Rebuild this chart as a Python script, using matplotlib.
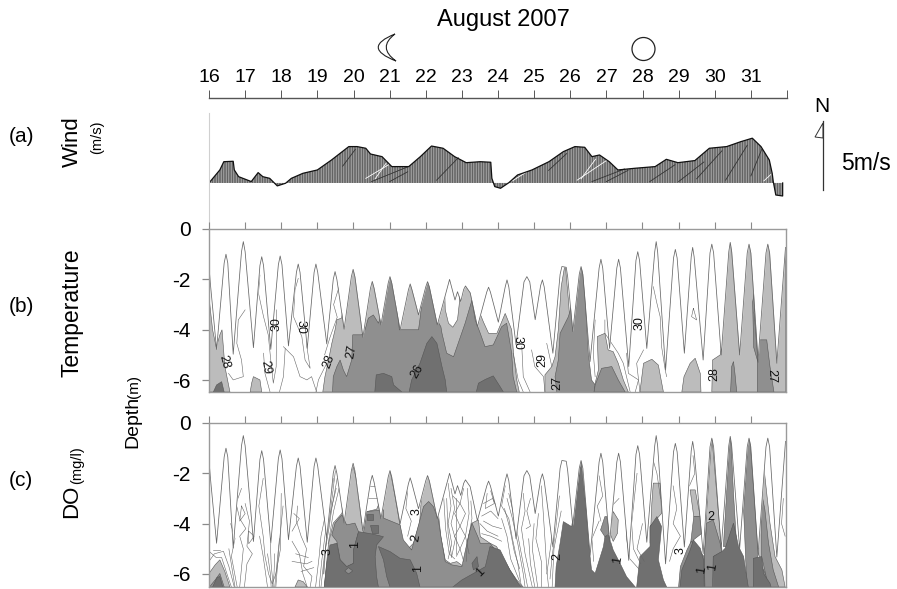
import matplotlib
matplotlib.use('Agg')
import matplotlib.pyplot as plt
from matplotlib.path import Path
from matplotlib.patches import PathPatch, Circle, Polygon

plt.rcParams['font.family'] = ['Liberation Sans', 'DejaVu Sans']
plt.rcParams['hatch.linewidth'] = 0.45

LIGHT = '#bcbcbc'
MID = '#8f8f8f'
DARK = '#707070'
AXIS = '#8a8a8a'

DAYS = list(range(16, 32))
DEPTH_TICKS = [0, -2, -4, -6]

# wind envelope (day, m/s)
WIND = [(16.0, 0), (16.3, 0.93), (16.41, 1.52), (16.67, 1.55), (16.7, 0.93), (16.82, 0.45), (17.01, 0.26),
        (17.17, 0.1), (17.36, 0.74), (17.49, 0.45), (17.68, 0.33), (17.89, -0.21), (18.12, -0.02), (18.28, 0.33),
        (18.6, 0.69), (19.0, 0.93), (19.39, 1.64), (19.87, 2.6), (20.1, 2.6), (20.34, 2.48), (20.47, 2.07),
        (20.79, 1.88), (21.06, 1.17), (21.53, 1.17), (21.85, 1.88), (22.16, 2.64), (22.48, 2.48), (22.8, 1.88),
        (23.12, 1.45), (23.51, 1.52), (23.8, 1.48), (23.83, 0.33), (23.91, -0.26), (24.07, -0.38), (24.3, 0.02),
        (24.54, 0.57), (24.94, 0.93), (25.41, 1.52), (25.81, 2.24), (26.13, 2.6), (26.4, 2.55), (26.6, 1.88),
        (26.81, 2.0), (27.08, 1.52), (27.32, 0.93), (27.79, 1.05), (28.35, 1.17), (28.66, 1.69), (28.98, 1.45),
        (29.45, 1.6), (29.85, 2.48), (30.33, 2.6), (30.72, 2.95), (31.04, 3.2), (31.28, 2.6), (31.51, 1.64),
        (31.59, 0.69), (31.62, 0.1), (31.69, -0.86), (31.88, -0.93), (31.88, 0)]
WIND_WHITE = [[(20.34, 0.33), (20.97, 1.3)], [(26.19, 0.2), (27.06, 1.7)], [(24.4, 0.15), (24.8, 0.8)],
              [(31.36, 0.15), (31.55, 0.6)], [(26.3, 0.3), (26.7, 1.7)], [(20.6, 0.3), (20.9, 1.4)]]
WIND_DARK = [[(20.5, 0.1), (21.5, 1.15)], [(21.0, 0.1), (21.5, 0.8)], [(26.6, 0.1), (27.5, 1.0)],
             [(22.3, 0.2), (22.9, 1.8)], [(29.5, 0.3), (30.2, 2.3)], [(30.3, 0.2), (30.9, 2.7)],
             [(31.0, 0.5), (31.3, 2.4)], [(27.0, 0.1), (27.6, 0.9)], [(28.2, 0.1), (28.9, 1.3)],
             [(29.0, 0.1), (29.7, 1.5)], [(25.4, 0.9), (25.9, 2.1)], [(19.7, 1.2), (20.05, 2.4)]]

# water surface, same record for temperature and DO (day, depth m)
SURFACE = [(16.0, 1.49), (16.04, 2.2), (16.21, 4.78),
           (16.42, 1.35), (16.47, 1.0), (16.52, 1.35), (16.67, 4.97),
           (16.9, 0.9), (16.95, 0.5), (17.0, 0.9), (17.23, 4.71),
           (17.41, 1.45), (17.46, 1.1), (17.51, 1.45), (17.71, 4.78),
           (17.92, 1.42), (17.97, 1.07), (18.02, 1.42), (18.2, 4.64),
           (18.42, 1.72), (18.47, 1.39), (18.52, 1.72), (18.72, 4.74),
           (18.91, 1.72), (18.96, 1.39), (19.01, 1.72), (19.26, 4.56),
           (19.44, 2.0), (19.49, 1.69), (19.54, 2.0), (19.74, 3.98),
           (19.94, 1.9), (19.99, 1.6), (20.04, 1.9), (20.26, 4.3),
           (20.47, 2.35), (20.52, 2.08), (20.57, 2.35), (20.76, 3.81),
           (20.96, 2.15), (21.01, 1.89), (21.06, 2.15), (21.29, 4.01),
           (21.52, 2.42), (21.57, 2.18), (21.62, 2.42), (21.8, 3.41),
           (22.0, 2.3), (22.05, 2.09), (22.1, 2.3), (22.32, 3.81),
           (22.66, 2.0), (22.81, 2.82), (22.88, 2.49), (22.97, 2.88), (23.05, 2.4), (23.1, 2.26), (23.23, 2.53),
           (23.43, 3.88), (23.69, 2.5), (23.74, 2.31), (23.79, 2.5), (24.01, 3.7),
           (24.2, 2.3), (24.25, 2.02), (24.3, 2.3), (24.5, 4.6),
           (24.72, 2.1), (24.8, 1.89), (24.88, 2.1), (25.03, 3.6),
           (25.18, 2.25), (25.23, 2.02), (25.28, 2.3), (25.52, 4.93),
           (25.72, 1.8), (25.77, 1.49), (25.89, 1.52), (25.93, 1.9), (26.07, 4.07),
           (26.25, 1.8), (26.3, 1.49), (26.35, 1.8), (26.55, 5.26),
           (26.8, 1.55), (26.85, 1.2), (26.9, 1.55), (27.09, 4.74),
           (27.29, 1.55), (27.34, 1.2), (27.39, 1.55), (27.62, 5.46),
           (27.82, 1.25), (27.87, 0.9), (27.92, 1.25), (28.12, 4.74),
           (28.34, 0.9), (28.38, 0.5), (28.42, 0.9), (28.64, 5.6),
           (28.86, 1.15), (28.91, 0.81), (28.96, 1.15), (29.16, 4.93),
           (29.35, 1.1), (29.39, 0.73), (29.43, 1.1), (29.68, 5.2),
           (29.87, 0.95), (29.92, 0.6), (29.97, 0.95), (30.18, 5.0),
           (30.39, 0.9), (30.43, 0.53), (30.47, 0.9), (30.69, 5.0),
           (30.9, 0.95), (30.95, 0.6), (31.0, 0.95), (31.2, 5.2),
           (31.42, 0.95), (31.47, 0.6), (31.52, 0.95), (31.72, 5.33),
           (31.96, 0.73)]

# temperature zones (day, depth m)
TEMP_LIGHT = [
    [(16.0, 2.7), (16.1, 4.0), (16.2, 4.7), (16.3, 4.2), (16.36, 4.0), (16.44, 5.46), (16.58, 6.47), (16.0, 6.47)],
    [(19.15, 6.47), (19.21, 5.86), (19.31, 5.2), (19.4, 4.54), (19.49, 4.0), (19.54, 3.6), (19.67, 3.54),
     (19.81, 2.29), (19.99, 0.97), (22.31, 0.97), (22.51, 1.6), (22.54, 3.2), (22.63, 3.74), (22.75, 3.9),
     (22.88, 3.6), (22.93, 2.95), (22.95, 1.63), (23.28, 1.63), (23.46, 3.2), (23.6, 3.7), (23.74, 4.14),
     (23.97, 4.14), (24.2, 3.35), (24.38, 4.0), (24.43, 4.93), (24.52, 5.99), (24.59, 6.47)],
    [(25.3, 6.48), (25.3, 5.79), (25.49, 5.46), (25.58, 5.07), (25.67, 4.0), (25.75, 2.29), (25.86, 1.36),
     (25.95, 2.82), (25.99, 3.61), (26.69, 6.47)],
    [(26.64, 6.47), (26.69, 6.12), (26.78, 5.6), (26.75, 4.27), (26.96, 4.14), (27.05, 4.8), (27.19, 4.87),
     (27.33, 5.33), (27.47, 5.99), (27.61, 6.47)],
    [(27.93, 6.47), (28.03, 5.33), (28.26, 5.17), (28.44, 5.4), (28.58, 6.47)],
    [(29.09, 6.47), (29.15, 5.86), (29.32, 5.33), (29.46, 5.13), (29.6, 5.73), (29.62, 6.47)],
    [(29.92, 6.47), (29.94, 5.2), (30.15, 5.0), (30.2, 4.6), (30.3, 1.5), (30.38, 0.2), (31.96, 0.2), (31.96, 6.47)],
    [(17.14, 6.47), (17.18, 6.12), (17.23, 5.86), (17.41, 5.99), (17.46, 6.47)],
]
TEMP_MID = [
    [(19.42, 6.47), (19.44, 5.86), (19.54, 5.46), (19.63, 5.2), (19.72, 5.6), (19.81, 5.86), (19.95, 5.2),
     (19.98, 4.2), (20.23, 4.2), (20.32, 4.0), (20.41, 3.54), (20.55, 3.41), (20.69, 3.74), (20.78, 3.35),
     (20.88, 2.29), (21.01, 0.97), (21.15, 2.29), (21.27, 4.0), (21.8, 4.0), (21.85, 3.48), (21.94, 2.29),
     (22.05, 0.97), (22.17, 2.29), (22.31, 3.61), (22.42, 3.88), (22.45, 4.14), (22.58, 4.93), (22.77, 5.07),
     (23.09, 3.74), (23.28, 2.82), (23.37, 3.61), (23.51, 4.14), (23.64, 4.67), (23.87, 4.6), (24.1, 3.88),
     (24.24, 3.74), (24.38, 4.93), (24.42, 5.86), (24.52, 6.47)],
    [(25.63, 6.48), (25.58, 5.86), (25.67, 5.2), (25.72, 4.14), (25.95, 3.48), (26.18, 2.29), (26.3, 0.97),
     (26.41, 2.69), (26.5, 4.93), (26.59, 5.99), (26.69, 6.19), (26.66, 6.48)],
    [(26.69, 6.19), (26.87, 5.53), (27.15, 5.46), (27.33, 5.99), (27.52, 6.47), (26.66, 6.47)],
    [(31.18, 6.47), (31.18, 5.33), (31.24, 4.4), (31.44, 4.4), (31.53, 5.46), (31.64, 6.47)],
    [(30.44, 6.47), (30.47, 5.46), (30.52, 5.26), (30.56, 5.73), (30.61, 6.47)],
    [(31.1, 2.5), (31.15, 3.0), (31.09, 3.3), (31.13, 4.0), (31.2, 5.3), (31.08, 4.7), (31.06, 3.5), (31.05, 2.9)],
]
TEMP_DARK = [
    [(20.59, 6.47), (20.63, 5.79), (20.83, 5.73), (21.06, 5.86), (21.11, 6.19), (21.34, 6.47)],
    [(21.54, 6.47), (21.61, 5.99), (21.84, 5.33), (22.03, 4.54), (22.17, 4.27), (22.31, 4.54), (22.45, 5.46),
     (22.54, 5.99), (22.58, 6.47)],
    [(23.4, 6.47), (23.46, 6.12), (23.65, 5.97), (23.87, 5.83), (24.06, 6.26), (24.15, 6.47)],
    [(16.12, 6.47), (16.21, 6.19), (16.35, 6.06), (16.42, 6.47)],
]
TEMP_LINES = [
    [(17.41, 1.83), (17.37, 2.55), (17.51, 3.48), (17.64, 4.2), (17.71, 5.2), (17.78, 6.12), (17.86, 5.46), (17.87, 3.21)],
    [(18.47, 1.96), (18.38, 2.42), (18.34, 3.48), (18.57, 4.27), (18.66, 5.2), (18.8, 5.53), (18.71, 4.67), (18.75, 4.0)],
    [(17.0, 3.21), (16.81, 3.61), (16.77, 4.54), (16.9, 5.2), (16.95, 5.86), (16.67, 5.99), (16.54, 5.73)],
    [(17.51, 4.93), (17.55, 5.73), (17.69, 6.47)],
    [(18.06, 4.67), (18.34, 5.07), (18.52, 5.86), (18.71, 5.99), (18.84, 5.86), (18.98, 6.47)],
    [(18.11, 4.74), (18.06, 5.86), (17.95, 6.47)],
    [(19.26, 5.33), (19.03, 5.99), (18.96, 6.47)],
    [(19.6, 2.3), (19.45, 3.0), (19.55, 3.5), (19.35, 4.3), (19.2, 5.0)],
    [(24.42, 4.93), (24.56, 5.99), (24.7, 6.47)],
    [(24.66, 4.67), (24.7, 5.86), (24.89, 6.47)],
    [(24.93, 4.8), (25.02, 5.46), (25.26, 5.86), (25.3, 6.47)],
    [(25.35, 4.54), (25.49, 5.46)],
    [(26.69, 3.61), (26.64, 4.93), (26.69, 5.86)],
    [(26.96, 3.61), (26.96, 4.14), (27.33, 4.93), (27.47, 5.33), (27.66, 6.47)],
    [(27.56, 4.93), (27.61, 5.73), (27.89, 5.99), (27.8, 6.47)],
    [(28.3, 2.29), (28.4, 2.95), (28.49, 3.48), (28.53, 4.67), (28.63, 5.6), (28.67, 5.86)],
    [(28.03, 4.8), (27.84, 5.33), (27.93, 6.47)],
    [(29.41, 3.15), (29.5, 3.61), (29.36, 3.48), (29.41, 3.15)],
]

# dissolved oxygen zones (day, depth m)
DO_LIGHT = [
    [(16.0, 5.98), (16.17, 5.64), (16.3, 5.44), (16.44, 5.91), (16.58, 6.52), (16.0, 6.52)],
    [(18.38, 6.52), (18.47, 6.24), (18.61, 6.31), (18.72, 6.52)],
    [(19.19, 6.52), (19.31, 4.78), (19.44, 3.98), (19.68, 3.59), (19.81, 2.52), (19.99, 1.73), (20.14, 2.52),
     (20.23, 3.98), (20.37, 3.52), (20.64, 3.43), (20.83, 2.79), (21.01, 1.86), (21.15, 2.92), (21.27, 3.92),
     (21.34, 4.58), (21.48, 5.05), (21.66, 4.78), (21.83, 3.98), (21.89, 2.79), (22.03, 1.99), (22.21, 2.39),
     (22.35, 3.59), (22.42, 4.52), (22.54, 5.44), (22.68, 5.58), (22.86, 5.51), (23.05, 5.71), (23.18, 4.52),
     (23.28, 3.98), (23.46, 3.85), (23.51, 4.52), (23.78, 4.78), (23.96, 4.91), (24.33, 5.84), (24.52, 6.24),
     (24.7, 6.52)],
    [(27.1, 4.38), (27.19, 3.52), (27.33, 3.85), (27.31, 4.38), (27.19, 4.71)],
    [(28.21, 4.78), (28.26, 3.19), (28.3, 2.39), (28.49, 2.39), (28.53, 3.59), (28.21, 4.12)],
    [(29.42, 3.72), (29.32, 2.66), (29.46, 2.66), (29.6, 3.72)],
    [(29.73, 6.52), (29.71, 5.31), (29.78, 3.45), (29.92, 0.53), (30.08, 3.19), (30.2, 5.05), (29.96, 5.31), (29.94, 6.52)],
    [(31.35, 1.59), (31.44, 2.79), (31.53, 3.98), (31.67, 5.31), (31.86, 5.84), (31.95, 6.52), (31.44, 6.52),
     (31.21, 5.18), (31.21, 2.12)],
]
DO_MID = [
    [(16.01, 6.52), (16.17, 6.24), (16.3, 5.98), (16.42, 6.52)],
    [(20.28, 6.52), (20.28, 4.32), (20.37, 3.52), (20.83, 3.45), (20.83, 3.78), (21.29, 4.05), (21.38, 4.65),
     (21.61, 5.05), (21.84, 3.85), (21.94, 3.32), (22.08, 3.12), (22.21, 3.32), (22.35, 3.85), (22.42, 4.52),
     (22.54, 5.51), (22.72, 5.64), (23.0, 5.71), (23.18, 4.52), (23.28, 3.98), (23.46, 4.58), (23.51, 4.78),
     (23.78, 4.78), (24.06, 5.31), (24.42, 6.11), (24.61, 6.52)],
    [(19.4, 4.45), (19.49, 3.98), (19.68, 3.65), (19.81, 4.05), (20.04, 3.98), (20.14, 4.32), (20.0, 5.05),
     (20.0, 5.58), (19.81, 5.71), (19.63, 5.44), (19.54, 4.71)],
    [(26.96, 3.72), (27.01, 3.72), (27.1, 4.38), (26.96, 4.52), (26.84, 4.25)],
    [(29.28, 5.44), (29.42, 3.72), (29.6, 3.72), (29.65, 4.38), (29.41, 4.65)],
    [(29.73, 6.52), (29.71, 5.31), (29.78, 3.98), (29.96, 3.85), (30.15, 4.78), (30.2, 5.11), (29.96, 5.31), (29.94, 6.52)],
    [(30.24, 4.91), (30.33, 2.79), (30.43, 0.13), (30.52, 2.79), (30.61, 4.91)],
    [(30.8, 3.45), (30.95, 0.13), (31.12, 3.45), (31.21, 5.18), (31.17, 5.44), (31.35, 5.84), (31.49, 6.24),
     (31.58, 6.52), (30.89, 6.52)],
    [(31.3, 2.79), (31.39, 3.45), (31.49, 4.78), (31.62, 5.84), (31.77, 6.52), (31.49, 6.52), (31.3, 5.31)],
    [(29.0, 6.52), (29.05, 5.71), (29.23, 5.05), (29.35, 4.7), (29.7, 5.3), (29.72, 6.52)],
]
DO_DARK = [
    [(16.1, 6.52), (16.22, 6.15), (16.3, 6.1), (16.38, 6.52)],
    [(19.19, 6.52), (19.26, 5.58), (19.35, 4.85), (19.54, 4.78), (19.63, 5.44), (19.81, 5.71), (20.0, 5.58),
     (20.0, 5.05), (20.14, 4.32), (20.51, 4.41), (20.83, 4.52), (20.64, 4.85), (20.6, 5.31), (20.64, 6.11), (20.69, 6.52)],
    [(20.69, 4.91), (21.01, 5.11), (21.29, 5.38), (21.57, 5.44), (21.75, 5.98), (21.84, 6.52), (21.01, 6.52),
     (20.92, 6.11), (20.83, 5.44)],
    [(20.46, 4.05), (20.69, 4.05), (20.69, 4.38), (20.5, 4.38)],
    [(20.37, 3.6), (20.55, 3.6), (20.55, 3.85), (20.37, 3.85)],
    [(22.75, 6.52), (23.0, 6.24), (23.41, 5.91), (23.65, 5.71), (23.78, 4.91), (24.06, 5.05), (24.33, 5.84),
     (24.56, 6.37), (24.65, 6.52)],
    [(23.28, 5.58), (23.42, 5.31), (23.46, 5.71), (23.32, 5.84)],
    [(25.58, 6.52), (25.61, 5.71), (25.72, 4.78), (25.81, 3.92), (26.04, 4.12), (26.18, 2.79), (26.3, 1.46),
     (26.44, 3.45), (26.53, 5.05), (26.59, 5.84), (26.69, 5.98), (26.92, 4.91), (26.96, 4.52), (27.06, 4.45),
     (27.19, 5.05), (27.38, 5.58), (27.56, 6.11), (27.8, 6.52)],
    [(27.84, 6.52), (27.93, 5.31), (28.21, 4.91), (28.21, 4.12), (28.4, 3.72), (28.53, 4.12), (28.44, 5.44),
     (28.58, 6.24), (28.67, 6.52)],
    [(29.04, 6.52), (29.09, 5.84), (29.32, 5.05), (29.41, 4.65), (29.6, 4.98), (29.69, 5.44), (29.71, 6.52)],
    [(29.96, 6.52), (29.96, 5.31), (30.2, 5.11), (30.29, 4.98), (30.52, 3.98), (30.66, 4.91), (30.8, 5.31), (30.93, 6.52)],
    [(31.07, 6.52), (31.07, 5.38), (31.3, 5.31), (31.35, 5.98), (31.53, 6.37), (31.56, 6.52)],
]
DO_MID_TOP = [
    [(19.76, 5.88), (19.86, 5.75), (19.98, 5.88), (19.86, 6.0)],
]
DO_LINES = [
    [(16.12, 5.05), (16.3, 5.05)],
    [(16.0, 5.1), (16.2, 5.35), (16.35, 5.35), (16.52, 6.1), (16.62, 6.52)],
    [(16.0, 5.5), (16.15, 5.2), (16.4, 5.1), (16.55, 5.7), (16.7, 6.52)],
    [(16.55, 5.0), (16.65, 5.9), (16.72, 6.52)],
    [(16.6, 4.0), (16.72, 4.6), (16.62, 5.3), (16.78, 6.52)],
    [(16.9, 2.6), (16.75, 3.2), (16.85, 3.8), (17.02, 4.2), (16.85, 4.5), (16.95, 5.0), (16.85, 6.52)],
    [(17.0, 3.2), (17.12, 3.9), (17.05, 4.9), (17.2, 5.2), (17.05, 5.6), (16.98, 6.52)],
    [(17.5, 2.2), (17.38, 3.3), (17.5, 4.5), (17.55, 5.3), (17.65, 6.0), (17.75, 6.4), (17.85, 6.0), (17.98, 5.0), (18.0, 2.8)],
    [(17.4, 4.5), (17.5, 5.3), (17.62, 6.52)],
    [(17.7, 4.8), (17.72, 5.6), (17.78, 6.52)],
    [(18.05, 3.3), (17.95, 4.7), (17.85, 6.52)],
    [(18.3, 4.7), (18.5, 5.2), (18.6, 6.0), (18.72, 6.52)],
    [(18.45, 3.3), (18.42, 3.9), (18.55, 4.5), (18.7, 5.0), (18.62, 5.7), (18.85, 6.1), (18.8, 6.52)],
    [(18.35, 3.6), (18.5, 3.8), (18.3, 4.3)],
    [(19.35, 2.7), (19.2, 3.8), (19.1, 4.5), (19.05, 5.3), (18.95, 6.52)],
    [(19.45, 2.2), (19.3, 3.5), (19.2, 4.6), (19.12, 5.5), (19.05, 6.52)],
    [(19.5, 1.9), (19.38, 3.3), (19.25, 4.6), (19.16, 6.0)],
    [(19.6, 2.6), (19.45, 3.5), (19.3, 4.8)],
    [(20.4, 3.0), (20.65, 3.0)],
    [(20.42, 2.5), (20.6, 2.5)],
    [(21.5, 2.7), (21.45, 3.4), (21.6, 3.9), (21.5, 4.5)],
    [(22.5, 3.0), (22.55, 4.2), (22.65, 5.2), (22.8, 5.4)],
    [(22.62, 2.4), (22.7, 3.3), (22.62, 4.0), (22.72, 4.8), (22.62, 5.4)],
    [(22.75, 2.9), (22.95, 3.2), (22.8, 3.6), (22.95, 4.1), (22.8, 4.5), (22.95, 5.0), (22.85, 5.3)],
    [(23.05, 2.6), (22.95, 3.2), (23.1, 3.6), (22.95, 4.1), (23.1, 4.5), (22.95, 5.0), (23.05, 5.5)],
    [(23.15, 2.6), (23.2, 3.6), (23.1, 4.5), (23.2, 5.2)],
    [(22.85, 3.0), (22.85, 5.2)],
    [(22.58, 3.0), (22.62, 4.4), (22.72, 5.35)],
    [(23.25, 3.1), (23.28, 3.8), (23.15, 4.8), (23.12, 5.5)],
    [(22.7, 2.6), (22.8, 3.4), (22.7, 4.0), (22.82, 4.6), (22.72, 5.3)],
    [(23.5, 4.0), (23.7, 4.3), (24.0, 4.5)],
    [(23.55, 3.7), (23.8, 3.5), (24.0, 3.8)],
    [(23.7, 2.8), (23.65, 3.4), (23.9, 3.2), (23.8, 2.7)],
    [(23.55, 4.4), (23.8, 4.5), (24.1, 4.7)],
    [(23.6, 3.2), (23.85, 3.0), (24.0, 3.4)],
    [(23.6, 3.9), (23.85, 4.1), (24.1, 4.2)],
    [(24.2, 2.5), (24.1, 3.3), (24.3, 3.8), (24.4, 4.6), (24.55, 5.6), (24.65, 6.52)],
    [(24.25, 3.0), (24.4, 3.8), (24.55, 4.8), (24.7, 6.0), (24.75, 6.52)],
    [(24.1, 3.8), (24.25, 4.5), (24.35, 5.4), (24.6, 6.3)],
    [(24.3, 2.8), (24.45, 3.7), (24.62, 5.0), (24.82, 6.52)],
    [(24.18, 3.4), (24.33, 4.2), (24.45, 5.1), (24.6, 5.8)],
    [(24.7, 2.8), (24.75, 3.5), (24.65, 4.2), (24.75, 5.2), (24.95, 6.52)],
    [(24.9, 3.0), (24.8, 3.5), (24.9, 4.1), (24.78, 4.2)],
    [(25.0, 4.0), (24.95, 5.0), (25.1, 6.52)],
    [(24.85, 4.6), (24.9, 5.6), (25.02, 6.52)],
    [(25.12, 3.6), (25.05, 4.6), (25.2, 5.5), (25.2, 6.52)],
    [(25.2, 2.5), (25.25, 3.5), (25.3, 4.6), (25.35, 5.8), (25.4, 6.52)],
    [(25.65, 2.5), (25.55, 4.0), (25.45, 5.0), (25.35, 6.0)],
    [(25.75, 3.5), (25.55, 5.0), (25.5, 6.52)],
    [(25.7, 2.9), (25.6, 4.2), (25.5, 5.3), (25.44, 6.2)],
    [(26.8, 2.1), (26.9, 2.9), (26.75, 3.3), (26.85, 3.9)],
    [(26.8, 3.9), (26.6, 4.6), (26.65, 5.5)],
    [(27.2, 2.5), (27.15, 3.3), (27.35, 3.0)],
    [(27.65, 3.5), (27.55, 4.5), (27.65, 5.4), (27.9, 5.8)],
    [(27.85, 2.0), (27.7, 4.0), (27.75, 5.0), (27.95, 5.6)],
    [(28.0, 4.0), (27.85, 5.0), (28.05, 5.5)],
    [(28.3, 1.5), (28.4, 2.0), (28.5, 3.0)],
    [(28.85, 2.5), (28.95, 3.4), (28.85, 4.0), (29.05, 4.5), (28.85, 5.0), (28.75, 5.5)],
    [(29.4, 1.3), (29.45, 2.0), (29.3, 2.5)],
    [(31.9, 3.0), (31.85, 4.0), (31.95, 4.5)],
    [(16.9, 3.3), (17.0, 3.6), (16.85, 3.9), (16.9, 3.3)],
    [(17.1, 4.3), (17.25, 4.5), (17.1, 4.8), (17.1, 4.3)],
    [(17.62, 5.2), (17.7, 6.0), (17.72, 6.52)],
    [(17.82, 5.2), (17.8, 6.0), (17.76, 6.52)],
    [(17.95, 4.6), (17.88, 5.6), (17.82, 6.52)],
    [(18.3, 5.5), (18.7, 5.6), (18.85, 5.5)],
    [(18.4, 5.2), (18.75, 5.35)],
    [(18.55, 5.9), (18.9, 5.75)],
    [(19.55, 2.2), (19.42, 3.2), (19.32, 4.2), (19.2, 5.2), (19.1, 6.52)],
    [(19.52, 2.6), (19.36, 3.6), (19.24, 4.8), (19.18, 6.0)],
]

# contour labels: text, x px, y px, rotation
TEMP_LABELS = [('28', 224, 362, -75), ('29', 265, 367, -80), ('30', 277, 324, 90), ('30', 301, 327, -90),
               ('28', 329, 361, 70), ('27', 352, 352, 80), ('26', 417, 371, 60), ('30', 518, 343, -90),
               ('29', 542, 360, 90), ('27', 557, 383, 90), ('30', 640, 323, 90), ('28', 714, 374, 90),
               ('27', 771, 376, -90)]
DO_LABELS = [('3', 417, 512, 90), ('2', 416, 538, 80), ('3', 328, 552, 90), ('1', 355, 545, 90), ('1', 418, 568, 90),
             ('1', 480, 572, 45), ('2', 557, 556, 90), ('1', 618, 560, 80), ('3', 681, 551, 90), ('1', 702, 570, 80),
             ('1', 713, 567, 80), ('2', 711, 517, 0)]


def xs(pts):
    return [p[0] for p in pts]


def ys(pts):
    return [-p[1] for p in pts]


def px_axes(fig, left, top, right, bottom):
    return fig.add_axes([left / 897, 1 - bottom / 589, (right - left) / 897, (bottom - top) / 589])


def draw_zones(ax, zones, colour):
    for pts in zones:
        ax.fill(xs(pts), ys(pts), facecolor=colour, edgecolor='#555555', linewidth=0.4, zorder=1.2)


def depth_panel(ax, light, mid, dark, lines, bottom):
    draw_zones(ax, light, LIGHT)
    draw_zones(ax, mid, MID)
    draw_zones(ax, dark, DARK)
    for pts in lines:
        ax.plot(xs(pts), ys(pts), color='#666666', linewidth=0.4, zorder=1.5)
    # white wedge above the water surface
    ax.fill_between(xs(SURFACE), ys(SURFACE), 0.2, color='white', linewidth=0, zorder=2)
    ax.plot(xs(SURFACE), ys(SURFACE), color='#666666', linewidth=0.55, zorder=2.1)
    ax.set_xlim(16, 31.96)
    ax.set_ylim(bottom, 0)
    ax.set_xticks(DAYS)
    ax.set_yticks(DEPTH_TICKS)
    ax.set_yticklabels([str(v) for v in DEPTH_TICKS])
    ax.tick_params(axis='x', top=True, bottom=False, labelbottom=False, length=5, width=0.8, color=AXIS)
    ax.tick_params(axis='y', length=5, width=0.9, color=AXIS, labelsize=15, pad=8)
    for s in ax.spines.values():
        s.set_color('#9a9a9a')
        s.set_linewidth(1.0)


fig = plt.figure(figsize=(8.97, 5.89), dpi=100)

# day scale
ax_top = px_axes(fig, 209, 98, 787, 99)
ax_top.set_xlim(16, 32)
ax_top.set_xticks(DAYS + [32])
ax_top.set_xticklabels([str(d) for d in DAYS] + [''])
ax_top.set_yticks([])
ax_top.xaxis.tick_top()
ax_top.tick_params(axis='x', length=6, width=0.7, color='#555555', labelsize=14, pad=3)
for name in ['left', 'right', 'bottom']:
    ax_top.spines[name].set_visible(False)
ax_top.spines['top'].set_color('#555555')
ax_top.spines['top'].set_linewidth(1.0)

# wind
ax_w = px_axes(fig, 209, 113, 787, 229)
ax_w.fill(xs(WIND), [p[1] for p in WIND], facecolor='#a9a9a9', edgecolor='#3a3a3a', hatch='|' * 10, linewidth=0)
for seg in WIND_DARK:
    ax_w.plot(xs(seg), [p[1] for p in seg], color='#333333', linewidth=0.6)
for seg in WIND_WHITE:
    ax_w.plot(xs(seg), [p[1] for p in seg], color='white', linewidth=0.6)
ax_w.plot(xs(WIND), [p[1] for p in WIND], color='#111111', linewidth=0.9)
ax_w.set_xlim(16, 32)
ax_w.set_ylim(-3.29, 5)
ax_w.axis('off')
ax_w.plot([16, 16], [-3.29, 5], color='#d0d0d0', linewidth=0.8, clip_on=False)

ax_t = px_axes(fig, 209, 229, 785.5, 392)
depth_panel(ax_t, TEMP_LIGHT, TEMP_MID, TEMP_DARK, TEMP_LINES, -6.47)
ax_d = px_axes(fig, 209, 423, 785.5, 587)
depth_panel(ax_d, DO_LIGHT, DO_MID, DO_DARK, DO_LINES, -6.52)
draw_zones(ax_d, DO_MID_TOP, MID)

# overlay in image pixels for annotations
ov = fig.add_axes([0, 0, 1, 1])
ov.set_xlim(0, 897)
ov.set_ylim(589, 0)
ov.axis('off')
ov.patch.set_alpha(0)

ov.text(503, 20, 'August 2007', fontsize=17, ha='center', va='center')
ov.add_patch(Circle((643.5, 49), 11.5, facecolor='white', edgecolor='#222222', linewidth=0.9))
moon = Path([(395, 34), (361, 47.5), (396, 61), (377, 47.5), (395, 34)],
            [Path.MOVETO, Path.CURVE3, Path.CURVE3, Path.CURVE3, Path.CURVE3])
ov.add_patch(PathPatch(moon, facecolor='white', edgecolor='#222222', linewidth=0.8))

for txt, y in [('(a)', 137), ('(b)', 306), ('(c)', 480)]:
    ov.text(21, y, txt, fontsize=15, ha='center', va='center')
ov.text(72, 142, 'Wind', fontsize=16, rotation=90, ha='center', va='center')
ov.text(97, 137, '(m/s)', fontsize=10.5, rotation=90, ha='center', va='center')
ov.text(72, 313, 'Temperature', fontsize=16.5, rotation=90, ha='center', va='center')
ov.text(72, 501, 'DO', fontsize=16, rotation=90, ha='center', va='center')
ov.text(77, 465, '(mg/l)', fontsize=10.5, rotation=90, ha='center', va='center')
ov.text(133, 422, 'Depth', fontsize=14, rotation=90, ha='center', va='center')
ov.text(134, 386, '(m)', fontsize=11, rotation=90, ha='center', va='center')

ov.text(822, 106, 'N', fontsize=15, ha='center', va='center')
ov.plot([823, 823], [121, 190], color='#333333', linewidth=0.9)
ov.add_patch(Polygon([(815, 137), (823, 123), (823, 138)], closed=True, facecolor='white',
                     edgecolor='#333333', linewidth=0.7))
ov.text(866, 164, '5m/s', fontsize=16.5, ha='center', va='center')

for txt, x, y, rot in TEMP_LABELS + DO_LABELS:
    ov.text(x, y, txt, fontsize=9, rotation=rot, ha='center', va='center', color='#111111')

fig.savefig('out.png', dpi=100)
